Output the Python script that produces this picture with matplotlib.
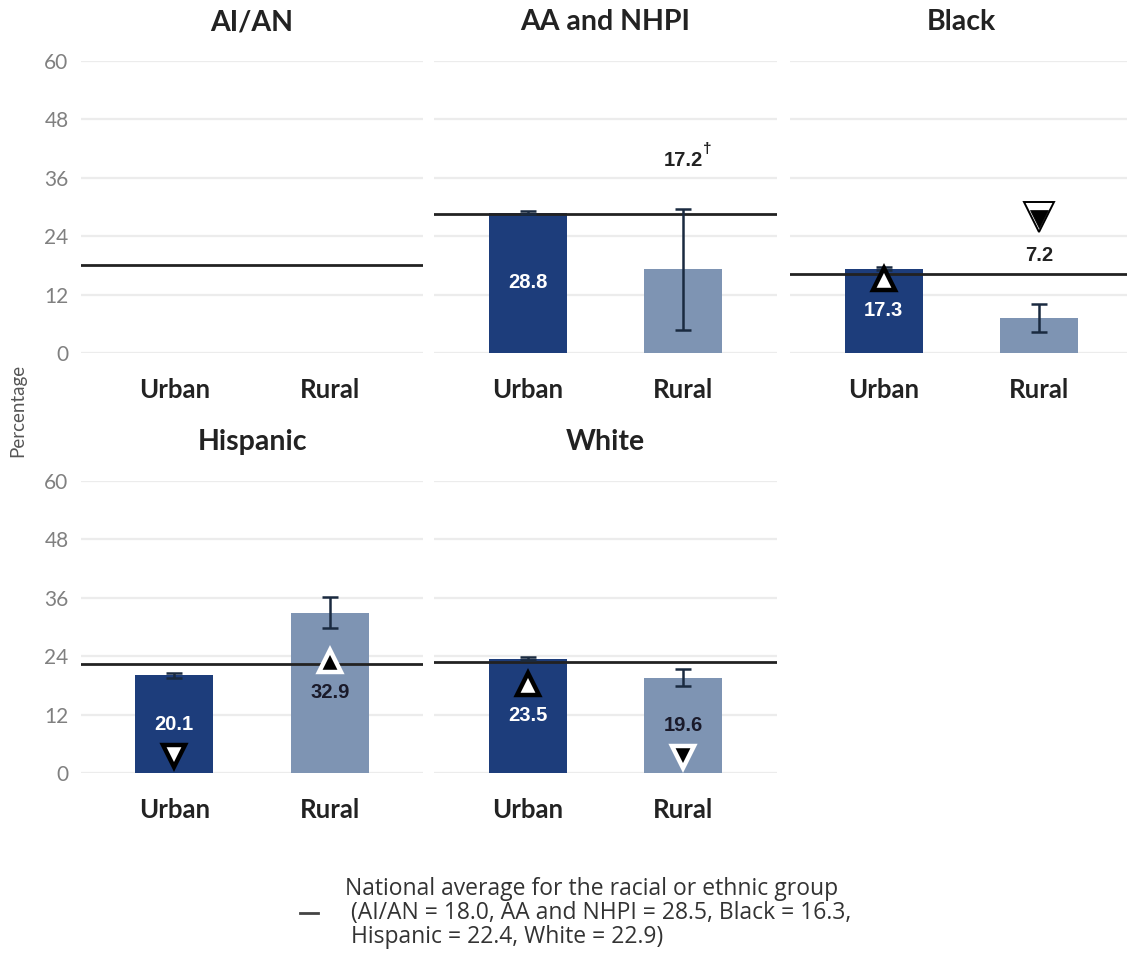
import matplotlib
matplotlib.use("Agg")
import matplotlib.pyplot as plt
import numpy as np

# ---------------- data ----------------
groups = ["AI/AN", "AA and NHPI", "Black", "Hispanic", "White"]
categories = ["Urban", "Rural"]
urban_values = [np.nan, 28.8, 17.3, 20.1, 23.5]
rural_values = [np.nan, 17.2, 7.2, 32.9, 19.6]
urban_err = [np.nan, 0.3, 0.3, 0.5, 0.3]
rural_err = [np.nan, 12.4, 2.8, 3.2, 1.7]
national_avg = [18.0, 28.5, 16.3, 22.4, 22.9]
urban_flags = ["", "", "up", "down", "up"]
rural_flags = ["", "", "down", "up", "down"]
rural_unreliable = [False, True, False, False, False]
yticks = [0, 12, 24, 36, 48, 60]
legend_text = ("National average for the racial or ethnic group\n"
               " (AI/AN = 18.0, AA and NHPI = 28.5, Black = 16.3,\n"
               " Hispanic = 22.4, White = 22.9)")

# ---------------- style ----------------
URBAN_C = "#1d3d7b"
RURAL_C = "#7e94b3"
GRID_C = "#ececec"
TXT_FONT = ["Lato", "DejaVu Sans"]
LEG_FONT = ["Open Sans", "DejaVu Sans"]
NUM_FONT = ["Liberation Sans", "DejaVu Sans"]

W, H = 1127, 964
fig = plt.figure(figsize=(W / 100, H / 100), dpi=100)

def ax_rect(x0, x1, ytop, ybot):
    return [x0 / W, 1 - ybot / H, (x1 - x0) / W, (ybot - ytop) / H]

panel_x = [(81, 423), (434, 777), (790, 1133), (81, 423), (434, 777)]
panel_y = [(61, 353), (61, 353), (61, 353), (481, 773), (481, 773)]

for i, g in enumerate(groups):
    (x0, x1), (yt, yb) = panel_x[i], panel_y[i]
    ax = fig.add_axes(ax_rect(x0, x1, yt, yb))
    ax.set_ylim(0, 60)
    ax.set_xlim(-0.6, 1.6)
    for s in ax.spines.values():
        s.set_visible(False)
    ax.set_yticks(yticks)
    ax.grid(axis="y", color=GRID_C, lw=1.6, zorder=0)
    ax.set_axisbelow(True)
    ax.tick_params(axis="both", length=0)
    ax.set_xticks([0, 1])
    ax.set_xticklabels(categories, fontfamily=TXT_FONT, fontweight="bold",
                       fontsize=18.5, color="#222222")
    ax.tick_params(axis="x", pad=18)
    if i in (0, 3):
        ax.set_yticklabels([str(t) for t in yticks], fontfamily=TXT_FONT,
                           fontsize=15, color="#808080")
        ax.tick_params(axis="y", pad=9)
    else:
        ax.set_yticklabels([])
    ph = yb - yt
    ax.text(0.5, 1 + 39 / ph, g, transform=ax.transAxes, ha="center",
            va="center", fontfamily=TXT_FONT, fontweight="bold",
            fontsize=20.5, color="#222222")

    vals = [urban_values[i], rural_values[i]]
    errs = [urban_err[i], rural_err[i]]
    flags = [urban_flags[i], rural_flags[i]]
    colors = [URBAN_C, RURAL_C]
    if not np.isnan(vals[0]):
        ax.bar([0, 1], vals, width=0.5, color=colors, zorder=2)
        ax.errorbar([0, 1], vals, yerr=errs, fmt="none", ecolor="#1a2a40",
                    elinewidth=1.8, capsize=6, capthick=1.8, zorder=4)
    ax.axhline(national_avg[i], color="#222222", lw=2.0, zorder=3)

    if np.isnan(vals[0]):
        continue
    for j in range(2):
        v, e = vals[j], errs[j]
        outside = (j == 1 and rural_unreliable[i]) or v < 10
        if outside:
            ly = v + e + 10
            tcol = "#222222"
        else:
            ly = v / 2
            tcol = "white" if j == 0 else "#1a1a2a"
        ax.text(j, ly, f"{v:.1f}", ha="center", va="center",
                fontfamily=NUM_FONT, fontweight="bold", fontsize=14.5,
                color=tcol, zorder=6)
        if j == 1 and rural_unreliable[i]:
            ax.text(j + 0.155, ly + 2.3, "\u2020", ha="center", va="center",
                    fontfamily=NUM_FONT, fontweight="bold", fontsize=11,
                    color="#222222", zorder=6)
        f = flags[j]
        if not f:
            continue
        mk = "^" if f == "up" else "v"
        if outside:
            my = ly + 8
        else:
            my = ly + 6.5 if f == "up" else ly - 6.5
        if j == 0:
            ax.plot(j, my, marker=mk, ms=15.5, mfc="white", mec="black",
                    mew=3.2, zorder=7, linestyle="none")
        else:
            if outside:
                ax.plot(j, my, marker=mk, ms=22, mfc="white", mec="black",
                        mew=1.4, zorder=7, linestyle="none")
                ax.plot(j, my + (-0.5 if f == "down" else 0.5), marker=mk,
                        ms=13, mfc="black", mec="black", mew=0.5, zorder=8,
                        linestyle="none")
            else:
                ax.plot(j, my, marker=mk, ms=15.5, mfc="black", mec="white",
                        mew=3.2, zorder=7, linestyle="none")

fig.text(18 / W, 1 - 410 / H, "Percentage", rotation=90, ha="center",
         va="center", fontfamily=TXT_FONT, fontsize=13.5, color="#555555")

# legend
fig.add_artist(plt.Line2D([300 / W, 318 / W], [1 - 913 / H, 1 - 913 / H],
                          color="#444444", lw=2.0))
fig.text(345 / W, 1 - 913 / H, legend_text, ha="left", va="center",
         fontfamily=LEG_FONT, fontsize=16.5, color="#333333",
         linespacing=1.02)

fig.savefig("out.png", dpi=100)
